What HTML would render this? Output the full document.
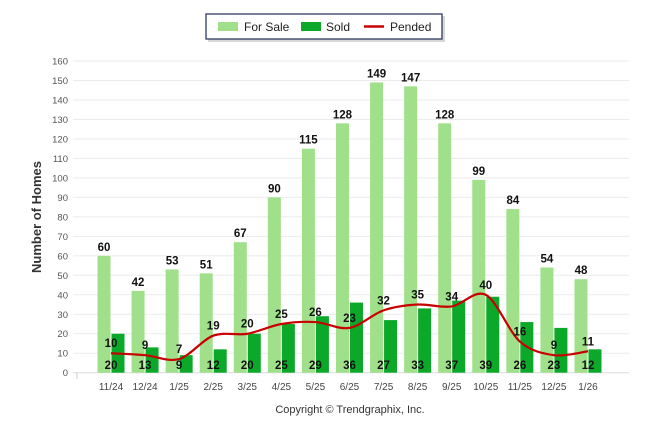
<!DOCTYPE html>
<html><head><meta charset="utf-8"><style>
body{margin:0;background:#fff;font-family:"Liberation Sans",sans-serif}
svg{display:block}
</style></head><body>
<svg id="c" width="646" height="434">
<g>
<rect x="208" y="16" width="237" height="26" fill="#d8d8d8"/>
<rect x="206" y="14" width="236" height="25" fill="#fff" stroke="#1f2d55" stroke-width="1.2"/>
<rect x="218" y="22" width="20" height="9" fill="#a0e08a"/>
<text x="244" y="31" font-size="12" fill="#222">For Sale</text>
<rect x="301" y="22" width="20" height="9" fill="#0ca82a"/>
<text x="326" y="31" font-size="12" fill="#222">Sold</text>
<line x1="364" y1="26.5" x2="384" y2="26.5" stroke="#c80000" stroke-width="2.5"/>
<text x="390" y="31" font-size="12" fill="#222">Pended</text>
</g>
<text transform="translate(41,217) rotate(-90)" text-anchor="middle" font-size="13" font-weight="bold" fill="#333">Number of Homes</text>
<text x="350" y="413" text-anchor="middle" font-size="11" fill="#333">Copyright © Trendgraphix, Inc.</text>
<g id="grid"></g><g id="bars"></g><g id="line"></g><g id="labels"></g>
</svg>
<script>
const categories=["11/24","12/24","1/25","2/25","3/25","4/25","5/25","6/25","7/25","8/25","9/25","10/25","11/25","12/25","1/26"];
const forSale=[60,42,53,51,67,90,115,128,149,147,128,99,84,54,48];
const sold=[20,13,9,12,20,25,29,36,27,33,37,39,26,23,12];
const pended=[10,9,7,19,20,25,26,23,32,35,34,40,16,9,11];
const yTicks=[0,10,20,30,40,50,60,70,80,90,100,110,120,130,140,150,160];
const NS="http://www.w3.org/2000/svg";
const y=v=>372.7-v*1.948;
const x=i=>111+i*34.07;
function mk(p,t,a,txt){const e=document.createElementNS(NS,t);for(const k in a)e.setAttribute(k,a[k]);if(txt!==undefined)e.textContent=txt;document.getElementById(p).appendChild(e);return e;}
yTicks.forEach(v=>{
 const l=mk('grid','line',{x1:73,x2:629,y1:y(v),y2:y(v),stroke:v?'#ebebeb':'#dcdcdc','stroke-width':1});
 
 
 const t=mk('grid','text',{x:68,y:y(v)+3.5,'text-anchor':'end','font-size':9.5,fill:'#555'},v);
 
 
});
mk('grid','line',{x1:77,x2:77,y1:373,y2:379,stroke:'#ccc'});
categories.forEach((c,i)=>{
 const t=mk('grid','text',{x:x(i),y:390,'text-anchor':'middle','font-size':10,fill:'#444'},c);
 
 
 const b1=mk('bars','rect',{x:x(i)-13.5,y:y(forSale[i]),width:13,height:y(0)-y(forSale[i]),fill:'#a0e08a'});
 
 
 const b2=mk('bars','rect',{x:x(i)+0.5,y:y(sold[i]),width:13,height:y(0)-y(sold[i]),fill:'#0ca82a'});
 
 
 const l1=mk('labels','text',{x:x(i)-7,y:y(forSale[i])-5,'text-anchor':'middle','font-size':11.5,'font-weight':'bold',fill:'#111'},forSale[i]);
 
 
 const l2=mk('labels','text',{x:x(i),y:369,'text-anchor':'middle','font-size':11.5,'font-weight':'bold',fill:'#111'},sold[i]);
 
 
 const l3=mk('labels','text',{x:x(i),y:y(pended[i])-6,'text-anchor':'middle','font-size':11.5,'font-weight':'bold',fill:'#111'},pended[i]);
 
 
});
// smooth line (monotone-ish cardinal)
const P=pended.map((v,i)=>[x(i),y(v)]);
let d='M'+P[0][0]+','+P[0][1];
for(let i=0;i<P.length-1;i++){
 const p0=P[i-1]||P[i],p1=P[i],p2=P[i+1],p3=P[i+2]||P[i+1];
 const t=0.16;
 d+=` C${p1[0]+(p2[0]-p0[0])*t},${p1[1]+(p2[1]-p0[1])*t} ${p2[0]-(p3[0]-p1[0])*t},${p2[1]-(p3[1]-p1[1])*t} ${p2[0]},${p2[1]}`;
}
const ln=mk('line','path',{d:d,fill:'none',stroke:'#c80000','stroke-width':2.2});


</script>
</body></html>
